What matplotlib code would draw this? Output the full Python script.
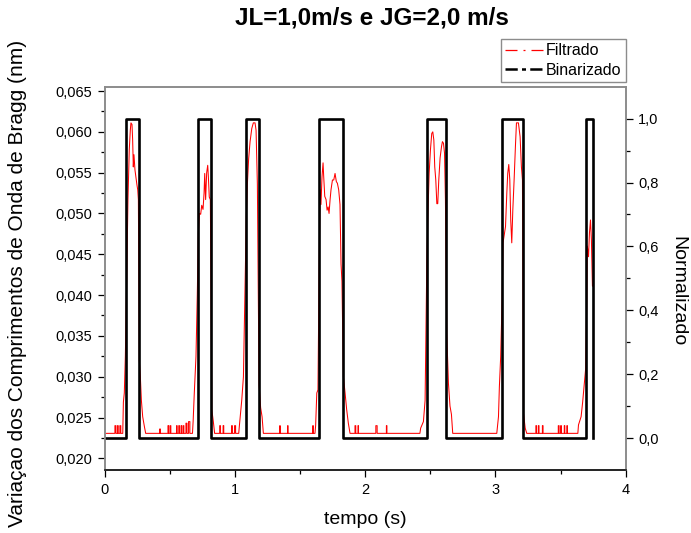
import numpy as np
import matplotlib
matplotlib.use('Agg')
from matplotlib import pyplot as plt
from matplotlib.lines import Line2D
from matplotlib.ticker import FuncFormatter, FixedLocator, MultipleLocator

plt.rcParams['font.family'] = ['Liberation Sans', 'DejaVu Sans']

# baseline level of the filtered signal (nm)
base_level = 0.02306

# filtered signal around each bubble passage (time s, value nm)
filt_t = [0.000, 0.140, 0.145, 0.152, 0.160, 0.170, 0.180, 0.190, 0.198, 0.203, 0.211, 0.216, 0.221,
          0.226, 0.234, 0.242, 0.249, 0.255, 0.260, 0.267, 0.275, 0.283, 0.293, 0.306, 0.316,
          0.675, 0.680, 0.689, 0.702, 0.712, 0.720, 0.728, 0.738, 0.746, 0.756, 0.764, 0.769,
          0.776, 0.784, 0.792, 0.797, 0.804, 0.812, 0.818, 0.823, 0.835, 0.845,
          1.030, 1.035, 1.053, 1.066, 1.073, 1.081, 1.088, 1.096, 1.106, 1.117, 1.130, 1.142,
          1.155, 1.163, 1.173, 1.186, 1.198, 1.209, 1.219,
          1.615, 1.620, 1.629, 1.638, 1.646, 1.654, 1.661, 1.669, 1.677, 1.682, 1.690, 1.700,
          1.708, 1.716, 1.723, 1.731, 1.738, 1.749, 1.759, 1.769, 1.779, 1.787, 1.797, 1.807,
          1.815, 1.822, 1.833, 1.846, 1.858, 1.871, 1.884,
          2.420, 2.426, 2.447, 2.460, 2.473, 2.481, 2.491, 2.501, 2.511, 2.519, 2.527, 2.534,
          2.542, 2.550, 2.557, 2.565, 2.575, 2.586, 2.593, 2.601, 2.609, 2.616, 2.626, 2.639,
          2.651, 2.662, 2.672,
          3.010, 3.023, 3.030, 3.040, 3.051, 3.058, 3.069, 3.077, 3.087, 3.094, 3.102, 3.110,
          3.117, 3.125, 3.133, 3.143, 3.153, 3.161, 3.176, 3.189, 3.199, 3.207, 3.215, 3.228,
          3.240,
          3.632, 3.637, 3.657, 3.669, 3.682, 3.692, 3.700, 3.705, 3.714, 3.721, 3.729, 3.736,
          3.744, 3.750]
filt_v = [0.02306, 0.02306, 0.0269, 0.0280, 0.0325, 0.0417, 0.0517, 0.0578, 0.0602, 0.0611, 0.0609, 0.0590, 0.0557,
          0.0572, 0.0553, 0.0543, 0.0535, 0.0529, 0.0517, 0.0320, 0.0300, 0.0271, 0.0251, 0.0239, 0.02306,
          0.02306, 0.0245, 0.0280, 0.0325, 0.0400, 0.0476, 0.0500, 0.0499, 0.0510, 0.0505, 0.0525, 0.0549,
          0.0517, 0.0550, 0.0559, 0.0545, 0.0520, 0.0517, 0.0400, 0.0260, 0.0245, 0.02306,
          0.02306, 0.0240, 0.0271, 0.0300, 0.0364, 0.0438, 0.0495, 0.0535, 0.0567, 0.0588, 0.0604, 0.0611,
          0.0611, 0.0602, 0.0536, 0.0290, 0.0262, 0.0251, 0.02306,
          0.02306, 0.0240, 0.0280, 0.0284, 0.0420, 0.0529, 0.0511, 0.0545, 0.0562, 0.0545, 0.0521, 0.0517,
          0.0504, 0.0508, 0.0500, 0.0517, 0.0529, 0.0541, 0.0541, 0.0549, 0.0539, 0.0537, 0.0529, 0.0511,
          0.0438, 0.0417, 0.0300, 0.0280, 0.0260, 0.0243, 0.02306,
          0.02306, 0.0237, 0.0245, 0.0271, 0.0438, 0.0496, 0.0549, 0.0578, 0.0598, 0.0600, 0.0590, 0.0557,
          0.0541, 0.0512, 0.0512, 0.0541, 0.0568, 0.0582, 0.0588, 0.0586, 0.0574, 0.0517, 0.0353, 0.0292,
          0.0264, 0.0254, 0.02306,
          0.02306, 0.0251, 0.0288, 0.0325, 0.0394, 0.0464, 0.0476, 0.0484, 0.0525, 0.0549, 0.0560, 0.0541,
          0.0492, 0.0464, 0.0504, 0.0541, 0.0582, 0.0611, 0.0611, 0.0594, 0.0557, 0.0541, 0.0255, 0.0237,
          0.02306,
          0.02306, 0.0241, 0.0251, 0.0269, 0.0292, 0.0310, 0.0390, 0.0460, 0.0447, 0.0476, 0.0492, 0.0468,
          0.0411, 0.0411]

# small noise steps on the baseline (start s, width s, top nm)
spike_t = [0.080, 0.100, 0.118, 0.424, 0.487, 0.503, 0.553, 0.570, 0.588, 0.603, 0.625, 0.645,
           0.884, 0.910, 0.975, 0.998, 1.345, 1.405, 1.598, 1.922, 1.945, 2.082, 2.163,
           3.310, 3.330, 3.360, 3.482, 3.500, 3.528, 3.548]
spike_w = [0.008, 0.005, 0.007, 0.004, 0.005, 0.006, 0.004, 0.006, 0.004, 0.006, 0.008, 0.010,
           0.006, 0.005, 0.006, 0.008, 0.003, 0.003, 0.004, 0.006, 0.004, 0.010, 0.004,
           0.006, 0.004, 0.005, 0.006, 0.006, 0.004, 0.004]
spike_v = [0.0240, 0.0240, 0.0240, 0.0236, 0.0240, 0.0240, 0.0240, 0.0240, 0.0240, 0.0240, 0.0243, 0.0245,
           0.0240, 0.0240, 0.0240, 0.0240, 0.0240, 0.0240, 0.0240, 0.0240, 0.0240, 0.0240, 0.0240,
           0.0240, 0.0240, 0.0240, 0.0240, 0.0240, 0.0240, 0.0240]

# binarized signal: rise and fall times of each pulse (s)
bin_rise = [0.165, 0.715, 1.083, 1.646, 2.475, 3.048, 3.693]
bin_fall = [0.265, 0.817, 1.186, 1.828, 2.621, 3.209, 3.751]

# merge spikes into the filtered trace
pts_t = list(filt_t)
pts_v = list(filt_v)
for s, w, h in zip(spike_t, spike_w, spike_v):
    pts_t += [s, s, s + w, s + w]
    pts_v += [base_level, h, h, base_level]
order = np.argsort(np.array(pts_t), kind='stable')
red_t = np.array(pts_t)[order]
red_v = np.array(pts_v)[order]

bt = [0.0]
bv = [0.0]
for r, f in zip(bin_rise, bin_fall):
    bt += [r, r, f, f]
    bv += [0, 1, 1, 0]

fig = plt.figure(figsize=(6.91, 5.33), dpi=100)
ax = fig.add_axes([104.5 / 691, 1 - 470 / 533, 521.3 / 691, 383.3 / 533])
ax2 = ax.twinx()

ax.plot(red_t, red_v, color='red', lw=0.75)
ax2.plot(bt, bv, color='black', lw=1.9)

ax.set_xlim(0, 4)
ax.set_ylim(0.01857, 0.06553)
ax2.set_ylim(-0.1, 1.1)

ax.xaxis.set_major_locator(MultipleLocator(1))
ax.xaxis.set_minor_locator(FixedLocator([0.5, 1.5, 2.5, 3.5]))
ax.yaxis.set_major_locator(FixedLocator(np.arange(0.020, 0.0651, 0.005)))
ax.yaxis.set_minor_locator(FixedLocator(np.arange(0.0225, 0.0630, 0.005)))
ax2.yaxis.set_major_locator(FixedLocator(np.arange(0.0, 1.01, 0.2)))
ax2.yaxis.set_minor_locator(FixedLocator(np.arange(0.1, 1.0, 0.2)))

ax.xaxis.set_major_formatter(FuncFormatter(lambda v, p: '%d' % round(v)))
ax.yaxis.set_major_formatter(FuncFormatter(lambda v, p: ('%.3f' % v).replace('.', ',')))
ax2.yaxis.set_major_formatter(FuncFormatter(lambda v, p: ('%.1f' % (0.0 if abs(v) < 1e-9 else v)).replace('.', ',')))

for a in (ax, ax2):
    a.tick_params(which='major', direction='out', length=5, width=0.9, labelsize=10.5, color='black')
    a.tick_params(which='minor', direction='out', length=3, width=0.9, color='black')
    for side in ('left', 'right', 'top'):
        a.spines[side].set_color('#8c8c8c')
        a.spines[side].set_linewidth(1.2)
    a.spines['bottom'].set_color('#222222')
    a.spines['bottom'].set_linewidth(1.2)
ax.tick_params(axis='y', pad=4)
ax.tick_params(axis='x', pad=4)
ax2.tick_params(axis='y', pad=4)

ax.set_xlabel('tempo (s)', fontsize=14)
ax.xaxis.set_label_coords(0.5, -0.13)
ax.xaxis.label.set_va('center')
ax.set_ylabel('Variaçao dos Comprimentos de Onda de Bragg (nm)', fontsize=15, va='center')
ax.yaxis.set_label_coords(-0.166, 0.488)
ax2.set_ylabel('Normalizado', fontsize=14, rotation=270, va='center')
ax2.yaxis.set_label_coords(1.10, 0.466)

fig.text(371.5 / 691, 1 - 18 / 533, 'JL=1,0m/s e JG=2,0 m/s', fontsize=17.5, fontweight='bold',
         ha='center', va='center')

handles = [Line2D([], [], color='red', lw=0.9, linestyle=(0, (9.6, 4.8, 1.6, 4.8))),
           Line2D([], [], color='black', lw=1.8, linestyle=(0, (4.9, 1.7, 1.6, 1.7)))]
leg = fig.legend(handles, ['Filtrado', 'Binarizado'], loc='upper right',
                 bbox_to_anchor=(625.7 / 691, 1 - 39.3 / 533), borderaxespad=0,
                 fontsize=11.5, fancybox=False, edgecolor='#8c8c8c', framealpha=1,
                 handlelength=2.4, handletextpad=0.2, borderpad=0.25, labelspacing=0.3)
leg.get_frame().set_linewidth(1.0)

fig.savefig('out.png', dpi=100)
